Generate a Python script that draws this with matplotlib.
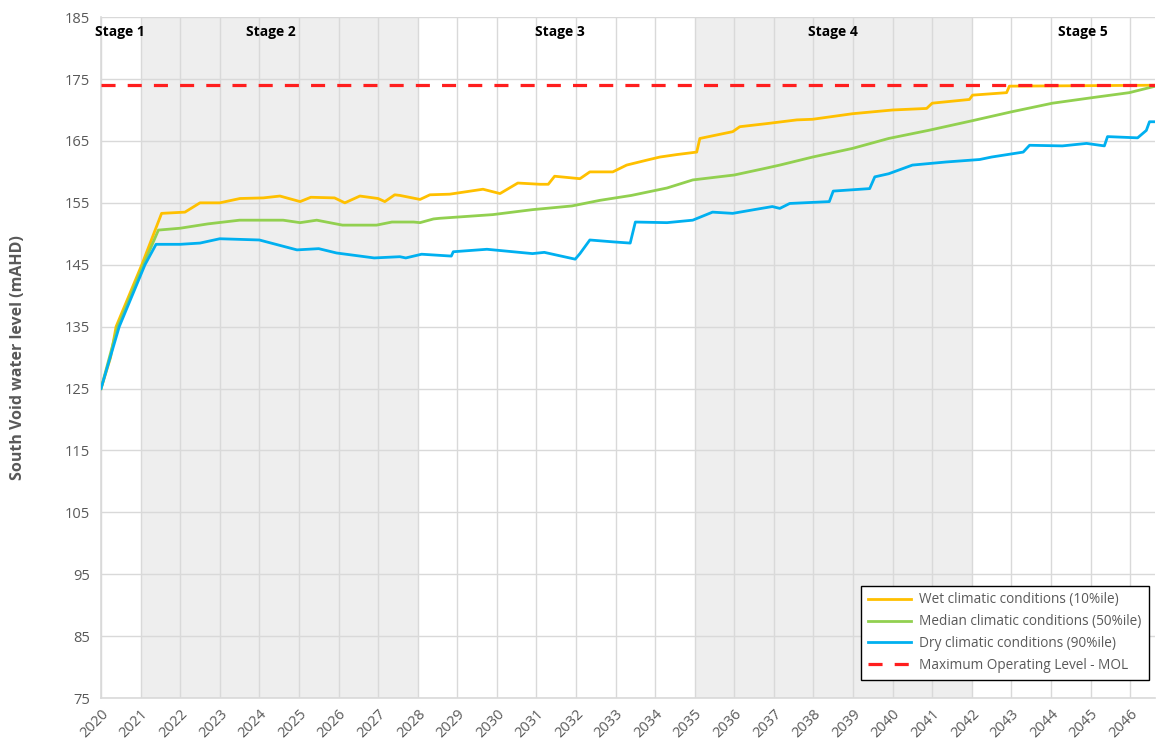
import matplotlib.pyplot as plt
import numpy as np

# values (year, water level mAHD)
wet_years = [2020.0, 2020.24, 2020.38, 2021.03, 2021.53, 2022.12, 2022.5, 2023.0, 2023.51,
             2024.1, 2024.52, 2025.03, 2025.3, 2025.9, 2026.16, 2026.54, 2027.0, 2027.17,
             2027.42, 2027.55, 2028.06, 2028.31, 2028.81, 2029.65, 2030.08, 2030.53, 2031.09,
             2031.3, 2031.46, 2032.1, 2032.35, 2032.93, 2033.28, 2033.79, 2034.12, 2034.55,
             2035.05, 2035.13, 2035.96, 2036.14, 2036.82, 2037.58, 2037.98, 2038.99, 2040.0,
             2040.86, 2041.0, 2041.94, 2042.02, 2042.88, 2042.95, 2046.64]
wet_level = [125.0, 130.0, 135.0, 145.0, 153.3, 153.5, 155.0, 155.0, 155.7,
             155.8, 156.1, 155.2, 155.9, 155.8, 155.0, 156.1, 155.7, 155.2,
             156.3, 156.2, 155.55, 156.3, 156.4, 157.2, 156.5, 158.2, 158.0,
             158.0, 159.3, 158.9, 160.0, 160.0, 161.1, 161.9, 162.4, 162.8,
             163.2, 165.4, 166.5, 167.3, 167.8, 168.4, 168.5, 169.4, 170.0,
             170.25, 171.1, 171.7, 172.4, 172.8, 173.85, 174.0]

med_years = [2020.0, 2020.42, 2021.07, 2021.45, 2022.0, 2022.7, 2023.5, 2024.6, 2025.03,
             2025.45, 2026.1, 2026.96, 2027.35, 2027.9, 2028.06, 2028.4, 2028.55, 2029.9,
             2030.9, 2031.9, 2032.6, 2033.4, 2034.3, 2034.95, 2036.0, 2036.8, 2037.15,
             2037.98, 2038.99, 2039.9, 2040.9, 2042.0, 2043.0, 2044.04, 2045.05, 2045.98,
             2046.64]
med_level = [125.0, 135.0, 145.0, 150.6, 150.9, 151.6, 152.2, 152.2, 151.8,
             152.2, 151.4, 151.4, 151.9, 151.9, 151.8, 152.4, 152.5, 153.1,
             153.9, 154.5, 155.4, 156.2, 157.4, 158.7, 159.5, 160.6, 161.1,
             162.4, 163.8, 165.4, 166.7, 168.25, 169.7, 171.1, 172.0, 172.8,
             173.85]

dry_years = [2020.0, 2020.46, 2021.11, 2021.39, 2022.0, 2022.5, 2023.0, 2024.0, 2024.95,
             2025.5, 2025.95, 2026.9, 2027.55, 2027.7, 2028.1, 2028.85, 2028.9, 2029.75,
             2030.9, 2031.2, 2031.98, 2032.1, 2032.35, 2032.93, 2033.37, 2033.5, 2034.3,
             2034.95, 2035.45, 2035.96, 2036.5, 2036.96, 2037.15, 2037.4, 2038.4, 2038.5,
             2039.42, 2039.55, 2039.9, 2040.5, 2041.35, 2042.2, 2042.5, 2043.3, 2043.46,
             2044.29, 2044.9, 2045.35, 2045.43, 2046.19, 2046.41, 2046.49, 2046.64]
dry_level = [125.0, 135.0, 145.0, 148.3, 148.3, 148.5, 149.2, 149.0, 147.4,
             147.6, 146.9, 146.1, 146.3, 146.1, 146.7, 146.4, 147.1, 147.5,
             146.8, 147.0, 145.9, 146.8, 149.0, 148.7, 148.5, 151.9, 151.8,
             152.2, 153.5, 153.3, 153.9, 154.4, 154.1, 154.9, 155.2, 156.9,
             157.3, 159.2, 159.7, 161.1, 161.6, 162.0, 162.4, 163.2, 164.3,
             164.2, 164.6, 164.2, 165.7, 165.5, 166.7, 168.1, 168.1]

mol_level = 174.0

stage_names = ["Stage 1", "Stage 2", "Stage 3", "Stage 4", "Stage 5"]
stage_x = [2020.48, 2024.3, 2031.6, 2038.5, 2044.8]
shaded_spans = [(2021, 2028), (2035, 2042)]

year_ticks = list(range(2020, 2047))
level_ticks = list(range(75, 186, 10))

plt.rcParams['font.family'] = ['Open Sans', 'DejaVu Sans']

fig = plt.figure(figsize=(11.56, 7.45), dpi=100)
ax = fig.add_subplot(111)
fig.subplots_adjust(left=0.0874, right=0.9995, top=0.977, bottom=0.063)

for a, b in shaded_spans:
    ax.axvspan(a, b, color='#EEEEEE', zorder=0, lw=0)

ax.plot(wet_years, wet_level, color='#FFC000', lw=2.0, label='Wet climatic conditions (10%ile)', zorder=3)
ax.plot(med_years, med_level, color='#92D050', lw=2.0, label='Median climatic conditions (50%ile)', zorder=3)
ax.plot(dry_years, dry_level, color='#00B0F0', lw=2.0, label='Dry climatic conditions (90%ile)', zorder=3)
ax.axhline(mol_level, color='#FF1E1E', lw=2.3, dashes=(4.4, 3.8),
           label='Maximum Operating Level - MOL', zorder=4)

for name, x in zip(stage_names, stage_x):
    ax.text(x, 182.6, name, ha='center', va='center', fontsize=10, fontweight='bold', color='black')

ax.set_xlim(2020, 2046.64)
ax.set_ylim(75, 185)
ax.set_xticks(year_ticks)
ax.set_xticklabels([str(y) for y in year_ticks], rotation=45, ha='right', rotation_mode='anchor')
ax.set_yticks(level_ticks)
ax.tick_params(length=0, labelsize=10.5, colors='#595959', pad=8)
ax.tick_params(axis='x', pad=6)

ax.grid(True, color='#D9D9D9', lw=1)
ax.set_axisbelow(True)
for s in ['top', 'right']:
    ax.spines[s].set_visible(False)
for s in ['left', 'bottom']:
    ax.spines[s].set_color('#D9D9D9')
    ax.spines[s].set_linewidth(1.2)

ax.set_ylabel('South Void water level (mAHD)', fontsize=11.5, fontweight='bold', color='#595959')
ax.yaxis.set_label_coords(-0.071, 0.5)

leg = ax.legend(loc='lower right', bbox_to_anchor=(1.0, 0.017), fontsize=9.8, fancybox=False,
                edgecolor='black', framealpha=1, handlelength=3.2, labelspacing=0.5,
                borderpad=0.5, handletextpad=0.6)
leg.get_frame().set_linewidth(1.0)
for t in leg.get_texts():
    t.set_color('#595959')

fig.savefig('out.png', dpi=100)
